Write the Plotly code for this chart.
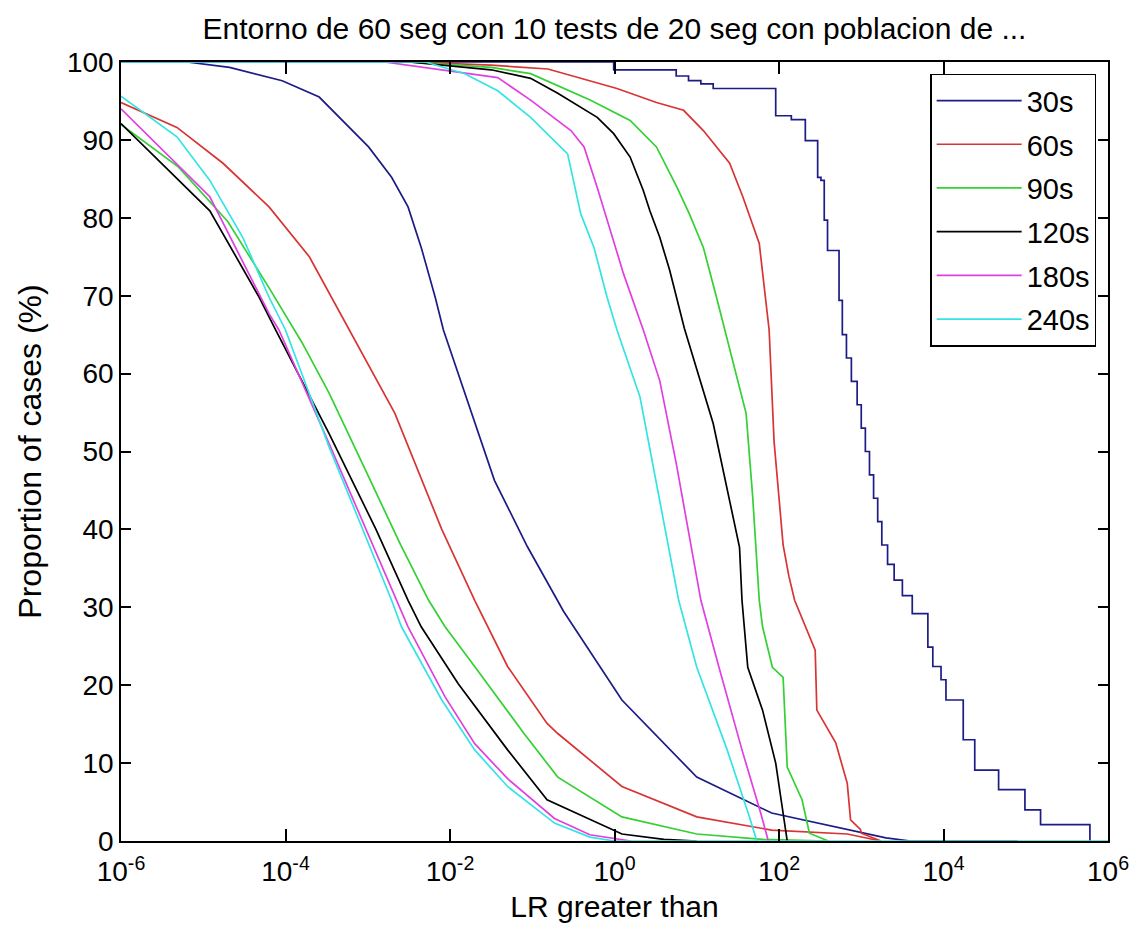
import plotly.graph_objects as go

# ---------------- data (x values are log10 of LR, y values are % of cases) ----------------
durations = ["30s", "60s", "90s", "120s", "180s", "240s"]

# 30s
nt30_exp = [-6, -5.2, -4.68, -4.04, -3.59, -3.31, -2.99, -2.71, -2.51, -2.35, -2.18, -2.08, -1.46, -1.06, -0.62, 0.09, 1.0, 1.91, 3.06, 3.3, 3.6, 4.9]
nt30_pct = [100, 100, 99.3, 97.6, 95.5, 92.5, 89.1, 85.2, 81.4, 76.2, 69.8, 65.6, 46.3, 37.8, 29.5, 18.1, 8.2, 3.6, 1.0, 0.4, 0, 0]
t30_exp = [-6, -0.01, 0.75, 0.9, 1.05, 1.2, 1.96, 2.15, 2.32, 2.47, 2.51, 2.55, 2.59, 2.73, 2.77, 2.82, 2.88, 2.95, 3.0, 3.05, 3.1, 3.15, 3.2, 3.25, 3.32, 3.4, 3.5, 3.62, 3.81, 3.87, 3.97, 4.03, 4.24, 4.38, 4.67, 4.99, 5.18, 5.78, 5.78]
t30_pct = [100, 99.0, 98.2, 97.6, 97.2, 96.6, 93.1, 92.6, 89.9, 85.2, 84.8, 79.7, 75.8, 69.4, 65.0, 62, 59, 56, 53, 50, 47, 44, 41, 38, 35.5, 33.5, 31.5, 29.2, 24.9, 22.4, 20.7, 18.1, 13.0, 9.1, 6.6, 4.0, 2.1, 0, 0]

# 60s
nt60_exp = [-6, -5.32, -4.76, -4.2, -3.71, -3.23, -2.67, -2.1, -1.7, -1.3, -0.82, -0.69, 0.09, 1.0, 1.91, 2.83, 3.1, 3.24]
nt60_pct = [94.8, 91.6, 87.0, 81.4, 75.0, 65.8, 54.9, 40.0, 30.9, 22.4, 15.1, 13.8, 7.0, 3.1, 1.4, 0.9, 0.3, 0]
t60_exp = [-6, -2.5, -1.5, -0.81, 0.03, 0.51, 0.84, 1.08, 1.4, 1.56, 1.76, 1.84, 1.88, 1.94, 2.05, 2.12, 2.19, 2.44, 2.46, 2.69, 2.83, 2.87, 2.99, 3.0, 3.24]
t60_pct = [100, 100, 99.6, 99.1, 96.6, 94.8, 93.8, 91.2, 87.0, 82.7, 76.7, 69.8, 65.6, 51.3, 38.0, 34.0, 30.9, 24.5, 16.8, 12.6, 7.4, 2.7, 1.5, 1.0, 0]

# 90s
nt90_exp = [-6, -5.3, -4.7, -4.2, -3.8, -3.47, -3.0, -2.6, -2.26, -2.06, -1.7, -1.1, -0.69, 0.09, 1.0, 1.8, 2.6]
nt90_pct = [92.0, 86.5, 79.5, 71.0, 64.0, 57.5, 47.0, 38.0, 30.9, 27.5, 22.4, 13.8, 8.2, 3.1, 0.9, 0.2, 0]
t90_exp = [-6, -2.5, -1.5, -1.02, -0.29, 0.19, 0.51, 0.76, 0.91, 1.08, 1.24, 1.34, 1.6, 1.68, 1.76, 1.8, 1.92, 2.05, 2.1, 2.28, 2.37, 2.6]
t90_pct = [100, 100, 99.3, 98.5, 95.1, 92.5, 89.1, 83.9, 80.5, 76.2, 69.8, 65.6, 54.9, 44.2, 30.9, 27.5, 22.3, 21.0, 9.5, 5.3, 1.0, 0]

# 120s
nt120_exp = [-6, -4.92, -4.32, -4.12, -3.47, -2.9, -2.51, -2.35, -1.9, -1.3, -0.82, 0.09, 0.6, 1.0]
nt120_pct = [92.1, 80.9, 69.8, 65.6, 52.3, 40.0, 30.9, 27.5, 20.2, 11.7, 5.3, 0.9, 0.2, 0]
t120_exp = [-6, -2.5, -1.5, -1.02, -0.69, -0.21, -0.01, 0.19, 0.35, 0.43, 0.55, 0.67, 0.85, 1.2, 1.52, 1.55, 1.62, 1.8, 1.96, 2.03, 2.1]
t120_pct = [100, 100, 99.0, 97.9, 96.0, 92.9, 90.8, 87.8, 83.5, 80.9, 77.5, 73.3, 65.8, 53.6, 37.7, 30.9, 22.3, 16.8, 10.0, 5.3, 0]

# 180s
nt180_exp = [-6, -4.92, -4.2, -4.08, -3.47, -2.65, -2.51, -2.06, -1.7, -1.3, -0.73, -0.3, 0.2]
nt180_pct = [94.0, 82.7, 67.7, 65.6, 51.0, 30.9, 27.5, 18.5, 12.5, 8.0, 2.9, 0.8, 0]
t180_exp = [-6, -2.8, -1.42, -1.02, -0.53, -0.37, -0.21, -0.05, 0.11, 0.35, 0.55, 0.75, 1.05, 1.27, 1.55, 1.78, 1.87]
t180_pct = [100, 100, 98.0, 95.1, 91.2, 89.1, 83.9, 78.4, 72.8, 65.6, 59.1, 48.5, 30.9, 22.3, 11.7, 3.5, 0]

# 240s
nt240_exp = [-6, -5.32, -4.92, -4.52, -4.2, -4.0, -3.47, -2.71, -2.59, -2.1, -1.7, -1.3, -0.73, -0.3, 0.0, 6.0]
nt240_pct = [95.6, 90.4, 84.8, 77.5, 69.8, 65.6, 50.6, 30.9, 27.5, 18.1, 11.7, 7.0, 2.3, 0.5, 0, 0]
t240_exp = [-6, -2.3, -1.82, -1.42, -1.02, -0.73, -0.57, -0.41, -0.25, -0.09, 0.03, 0.31, 0.48, 0.78, 1.0, 1.37, 1.64, 1.73]
t240_pct = [100, 100, 98.5, 96.3, 92.9, 89.9, 88.2, 80.5, 76.2, 69.8, 65.6, 57.0, 47.6, 30.9, 22.3, 11.7, 3.1, 0]

x_tick_exps = [-6, -4, -2, 0, 2, 4, 6]
x_tick_text = ["10<sup>-6</sup>", "10<sup>-4</sup>", "10<sup>-2</sup>", "10<sup>0</sup>",
               "10<sup>2</sup>", "10<sup>4</sup>", "10<sup>6</sup>"]
y_ticks = [0, 10, 20, 30, 40, 50, 60, 70, 80, 90, 100]

colors = ["#1c1c86", "#d83434", "#34d034", "#000000", "#e040e0", "#34e4e4"]

series = [
    (nt30_exp, nt30_pct, t30_exp, t30_pct),
    (nt60_exp, nt60_pct, t60_exp, t60_pct),
    (nt90_exp, nt90_pct, t90_exp, t90_pct),
    (nt120_exp, nt120_pct, t120_exp, t120_pct),
    (nt180_exp, nt180_pct, t180_exp, t180_pct),
    (nt240_exp, nt240_pct, t240_exp, t240_pct),
]

FONT = "Liberation Sans, Arial, sans-serif"

fig = go.Figure()
for i, (name, col, (ne, npct, te, tpct)) in enumerate(zip(durations, colors, series)):
    fig.add_trace(go.Scatter(
        x=[10 ** e for e in te], y=tpct, mode="lines", name=name,
        legendgroup=name, showlegend=True,
        line=dict(color=col, width=1.7, shape="hv" if i == 0 else "linear"),
    ))
    fig.add_trace(go.Scatter(
        x=[10 ** e for e in ne], y=npct, mode="lines", name=name,
        legendgroup=name, showlegend=False,
        line=dict(color=col, width=1.7),
    ))

fig.update_layout(
    width=1141, height=933,
    margin=dict(l=121, r=27, t=62, b=92),
    paper_bgcolor="white", plot_bgcolor="white",
    font=dict(family=FONT, size=28, color="black"),
    title=dict(text="Entorno de 60 seg con 10 tests de 20 seg con poblacion de ...",
               x=0.5, xref="paper", xanchor="center",
               y=1 - 28 / 933, yref="container", yanchor="middle",
               font=dict(family=FONT, size=30, color="black")),
    legend=dict(x=0.988, xanchor="right", y=0.985, yanchor="top",
                bgcolor="white", bordercolor="black", borderwidth=1.5,
                font=dict(family=FONT, size=29, color="black"),
                itemwidth=85, tracegroupgap=3),
    showlegend=True,
)
fig.update_xaxes(
    type="log", range=[-6, 6],
    tickvals=[10 ** e for e in x_tick_exps], ticktext=x_tick_text,
    ticks="inside", ticklen=12, tickwidth=1.5, tickcolor="black",
    showline=True, linecolor="black", linewidth=1.5, mirror="ticks",
    showgrid=False, zeroline=False, ticklabelstandoff=5,
    title=dict(text="LR greater than", standoff=10,
               font=dict(family=FONT, size=30, color="black")),
    tickfont=dict(family=FONT, size=28, color="black"),
)
fig.update_yaxes(
    range=[0, 100], tickvals=y_ticks,
    ticks="inside", ticklen=10, tickwidth=1.5, tickcolor="black",
    showline=True, linecolor="black", linewidth=1.5, mirror="ticks",
    showgrid=False, zeroline=False,
    title=dict(text="Proportion of cases (%)", standoff=16,
               font=dict(family=FONT, size=32, color="black")),
    tickfont=dict(family=FONT, size=28, color="black"),
)

fig.write_html("out.html")
